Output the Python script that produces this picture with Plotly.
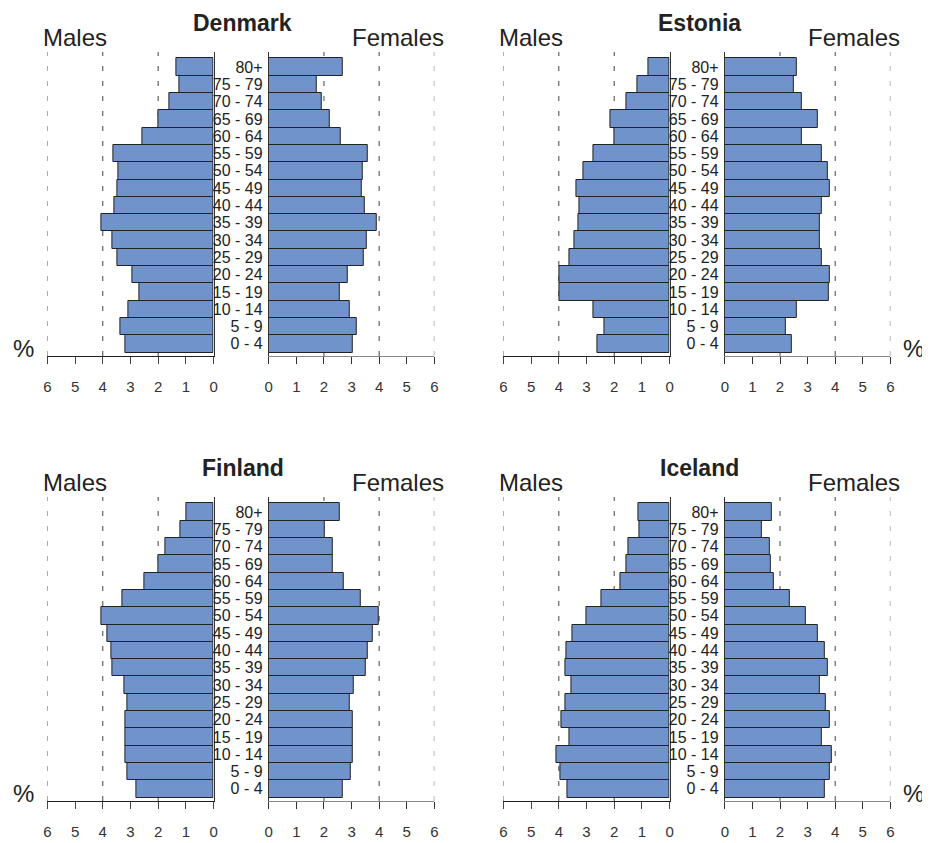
import plotly.graph_objects as go

ages = ["0 - 4", "5 - 9", "10 - 14", "15 - 19", "20 - 24", "25 - 29", "30 - 34", "35 - 39",
        "40 - 44", "45 - 49", "50 - 54", "55 - 59", "60 - 64", "65 - 69", "70 - 74", "75 - 79", "80+"]

denmark_m = [3.17, 3.36, 3.09, 2.69, 2.92, 3.46, 3.67, 4.06, 3.58, 3.48, 3.45, 3.62, 2.56, 2.01, 1.61, 1.25, 1.34]
denmark_f = [3.03, 3.19, 2.93, 2.57, 2.86, 3.43, 3.54, 3.90, 3.49, 3.38, 3.40, 3.60, 2.62, 2.20, 1.93, 1.74, 2.69]
estonia_m = [2.59, 2.35, 2.75, 3.99, 3.97, 3.61, 3.45, 3.30, 3.26, 3.36, 3.11, 2.75, 2.01, 2.14, 1.55, 1.16, 0.75]
estonia_f = [2.44, 2.21, 2.60, 3.78, 3.82, 3.50, 3.46, 3.43, 3.52, 3.82, 3.72, 3.51, 2.78, 3.37, 2.80, 2.51, 2.60]
finland_m = [2.80, 3.12, 3.20, 3.20, 3.20, 3.12, 3.21, 3.67, 3.68, 3.83, 4.05, 3.30, 2.51, 2.01, 1.74, 1.19, 0.98]
finland_f = [2.67, 2.98, 3.05, 3.05, 3.05, 2.95, 3.09, 3.52, 3.57, 3.77, 3.97, 3.32, 2.70, 2.33, 2.33, 2.02, 2.59]
iceland_m = [3.70, 3.95, 4.07, 3.62, 3.91, 3.75, 3.55, 3.75, 3.73, 3.50, 3.01, 2.45, 1.76, 1.57, 1.49, 1.08, 1.11]
iceland_f = [3.61, 3.79, 3.86, 3.50, 3.82, 3.66, 3.44, 3.75, 3.64, 3.36, 2.93, 2.37, 1.76, 1.67, 1.64, 1.33, 1.72]

countries = ["Denmark", "Estonia", "Finland", "Iceland"]
males = [denmark_m, estonia_m, finland_m, iceland_m]
females = [denmark_f, estonia_f, finland_f, iceland_f]
x_ticks = [0, 1, 2, 3, 4, 5, 6]

W, H = 930, 843
PAGE_OFF = 8  # default body margin of the html page
FONT = "Liberation Sans, Arial, sans-serif"
BAR_COLOR = "#7093CC"


def fx(x):
    return (x - PAGE_OFF) / W


def fy(y):
    return 1 - (y - PAGE_OFF) / H


offsets = [(0, 0), (460, 0), (0, 445), (460, 445)]
pct_side = ["left", "right", "left", "right"]

fig = go.Figure()
layout = dict(
    width=W, height=H, margin=dict(l=0, r=0, t=0, b=0),
    paper_bgcolor="white", plot_bgcolor="white",
    showlegend=False, bargap=0,
    font=dict(family=FONT, color="#222"),
)
annotations = []
shapes = []

for i, name in enumerate(countries):
    dx, dy = offsets[i]
    km, kf = 2 * i + 1, 2 * i + 2
    sm = "" if km == 1 else str(km)
    sf = str(kf)
    ydom = [fy(356 + dy), fy(52 + dy)]

    fig.add_trace(go.Bar(x=males[i], y=ages, orientation="h", xaxis="x" + sm, yaxis="y" + sm,
                         marker=dict(color=BAR_COLOR, line=dict(color="#222", width=1))))
    fig.add_trace(go.Bar(x=females[i], y=ages, orientation="h", xaxis="x" + sf, yaxis="y" + sf,
                         marker=dict(color=BAR_COLOR, line=dict(color="#222", width=1))))

    common_x = dict(tickvals=x_ticks, ticks="outside", ticklen=7, tickwidth=1,
                    showgrid=False, zeroline=False, showline=True, linewidth=1,
                    tickfont=dict(size=15, color="#333", family=FONT), ticklabelstandoff=10,
                    fixedrange=True)
    layout["xaxis" + sm] = dict(common_x, domain=[fx(43.7 + dx), fx(211.3 + dx)], range=[6, 0],
                                anchor="y" + sm, linecolor="#222", tickcolor="#444")
    layout["xaxis" + sf] = dict(common_x, domain=[fx(267 + dx), fx(434 + dx)], range=[0, 6],
                                anchor="y" + sf, linecolor="#888", tickcolor="#333")
    common_y = dict(type="category", categoryarray=ages, categoryorder="array",
                    range=[-0.7, 16.87], domain=ydom, showgrid=False, zeroline=False,
                    showline=True, linecolor="#333", linewidth=1, ticks="", fixedrange=True,
                    tickmode="linear", tick0=0, dtick=1)
    layout["yaxis" + sm] = dict(common_y, anchor="x" + sm, side="right", showticklabels=False)
    layout["yaxis" + sf] = dict(common_y, anchor="x" + sf, side="left", showticklabels=True,
                                tickfont=dict(size=16, color="#222", family=FONT), ticklabelstandoff=2)

    for ax_suffix in (sm, sf):
        for v in (2, 4, 6):
            shapes.append(dict(type="line", xref="x" + ax_suffix, yref="y" + ax_suffix + " domain",
                               x0=v, x1=v, y0=0, y1=1, layer="below",
                               line=dict(color="#666" if v == 6 else "#444", width=1, dash="5px,10px")))

    annotations.append(dict(text="<b>" + name + "</b>", x=fx(241 + dx), y=fy(8.5 + dy), xref="paper", yref="paper",
                            showarrow=False, xanchor="center", yanchor="top", borderpad=0,
                            font=dict(size=23, color="#222", family=FONT)))
    annotations.append(dict(text="Males", x=fx(71.5 + dx), y=fy(38 + dy), xref="paper", yref="paper",
                            showarrow=False, xanchor="center", yanchor="middle",
                            font=dict(size=24, color="#222", family=FONT)))
    annotations.append(dict(text="Females", x=fx(397 + dx), y=fy(38 + dy), xref="paper", yref="paper",
                            showarrow=False, xanchor="center", yanchor="middle",
                            font=dict(size=24, color="#222", family=FONT)))
    px = 20 if pct_side[i] == "left" else 917
    annotations.append(dict(text="%", x=fx(px), y=fy(348 + dy), xref="paper", yref="paper",
                            showarrow=False, xanchor="center", yanchor="middle",
                            font=dict(size=24, color="#222", family=FONT)))

layout["annotations"] = annotations
layout["shapes"] = shapes
fig.update_layout(**layout)
fig.write_html("out.html")
